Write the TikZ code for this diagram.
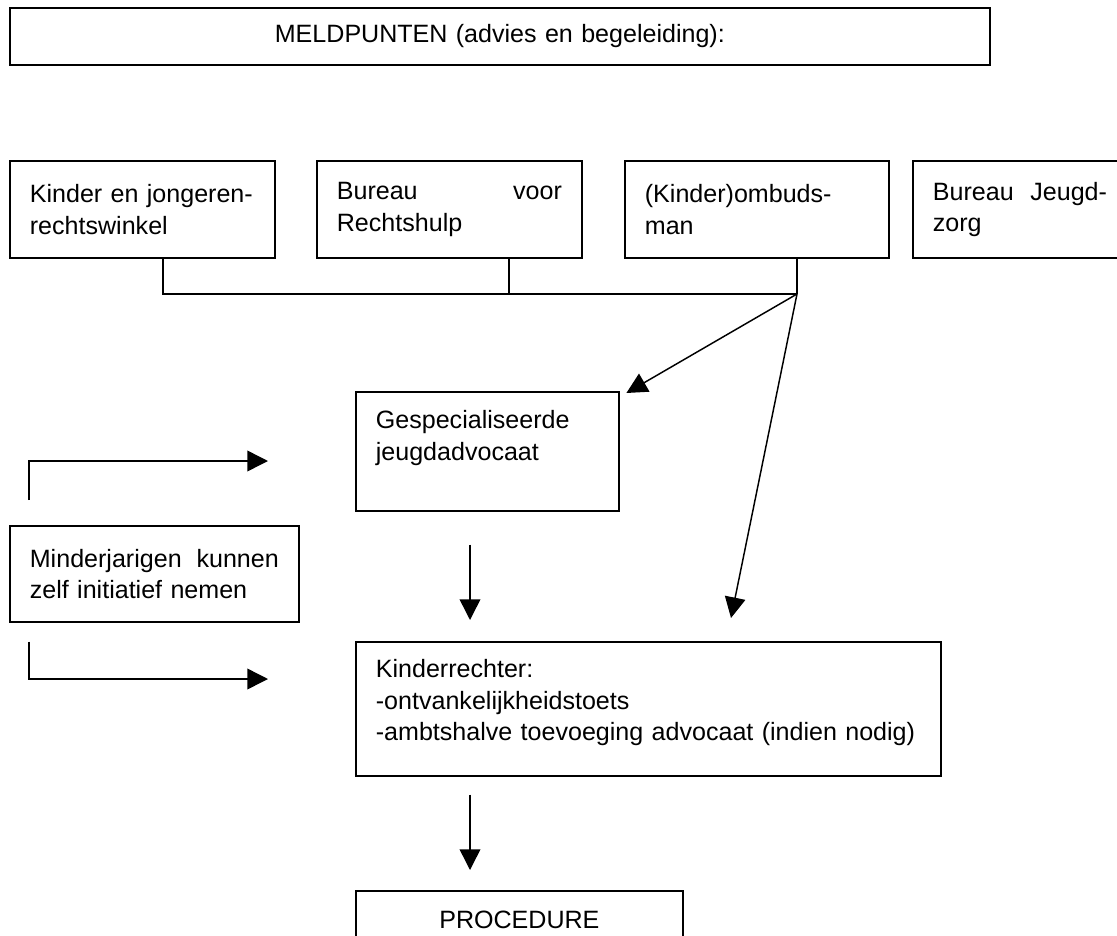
\documentclass[tikz,border=0pt]{standalone}
\usepackage{fontspec}
\setmainfont{Liberation Sans}
\usetikzlibrary{arrows.meta}
\tikzset{
  box/.style={draw, line width=1.3pt, anchor=north west, align=left, inner xsep=15pt, inner ysep=0pt,
    font=\fontsize{18.8pt}{23.6pt}\selectfont},
  conn/.style={line width=1.1pt},
  arrow/.style={conn, -{Triangle[length=15.5pt, width=15.5pt]}}
}

\begin{document}
\begin{tikzpicture}[x=0.75pt, y=-0.75pt]
	\useasboundingbox (0,0) rectangle (1117,935);
	\clip (0,0) rectangle (1117,935);
	\node[box, align=center, text width=705pt, minimum height=42.75pt] (meld) at (9,7) {MELDPUNTEN (advies en begeleiding):};
	\node[box, text width=168.75pt, minimum height=72.75pt] (kinder) at (9,160) {Kinder en jongeren-\\rechtswinkel};
	\node[box, text width=168.75pt, minimum height=72.75pt] (bureau) at (316,160) {Bureau\hfill voor\\Rechtshulp};
	\node[box, text width=168pt, minimum height=72.75pt] (ombud) at (624,160) {(Kinder)ombuds-\\man};
	\node[box, text width=168.75pt, minimum height=72.75pt] (jeugdzorg) at (912,160) {Bureau~~Jeugd-\\zorg};
	\node[box, text width=167.25pt, minimum height=89.25pt] (advocaat) at (355,391) {Gespecialiseerde\\jeugdadvocaat\\\mbox{}};
	\node[box, text width=186.75pt, minimum height=72pt] (zelf) at (9,525) {Minderjarigen\hfill kunnen\\zelf initiatief nemen};
	\node[box, text width=408.75pt, minimum height=100.5pt] (rechter) at (355,641) {Kinderrechter:\\-ontvankelijkheidstoets\\-ambtshalve toevoeging advocaat (indien nodig)\\[-10.6pt]\mbox{}};
	\node[box, align=center, text width=215.25pt, minimum height=42.75pt] (procedure) at (355,890) {PROCEDURE};
	\coordinate (hub) at (797,294);
	\coordinate (tapK) at (163,294);
	\coordinate (tapB) at (509,294);
	\coordinate (toAdvocaat) at (268,461);
	\coordinate (toRechter) at (268,679);
	\coordinate (tipRechter) at (731,618);
	\draw[conn] (kinder.south -| tapK) -- (tapK) -- (hub);
	\draw[conn] (bureau.south -| tapB) -- (tapB);
	\draw[conn] (ombud.south -| hub) -- (hub);
	\draw[arrow] (hub) -- ([xshift=5pt, yshift=-1.5pt]advocaat.north east);
	\draw[arrow] (hub) -- (tipRechter);
	\draw[arrow] ([shift={(115,33)}]advocaat.south west) -- ([shift={(115,-21)}]rechter.north west);
	\draw[arrow] ([shift={(115,18)}]rechter.south west) -- ([shift={(115,-20)}]procedure.north west);
	\draw[arrow] ([shift={(20,-25)}]zelf.north west) |- (toAdvocaat);
	\draw[arrow] ([shift={(20,19)}]zelf.south west) |- (toRechter);
\end{tikzpicture}
\end{document}
